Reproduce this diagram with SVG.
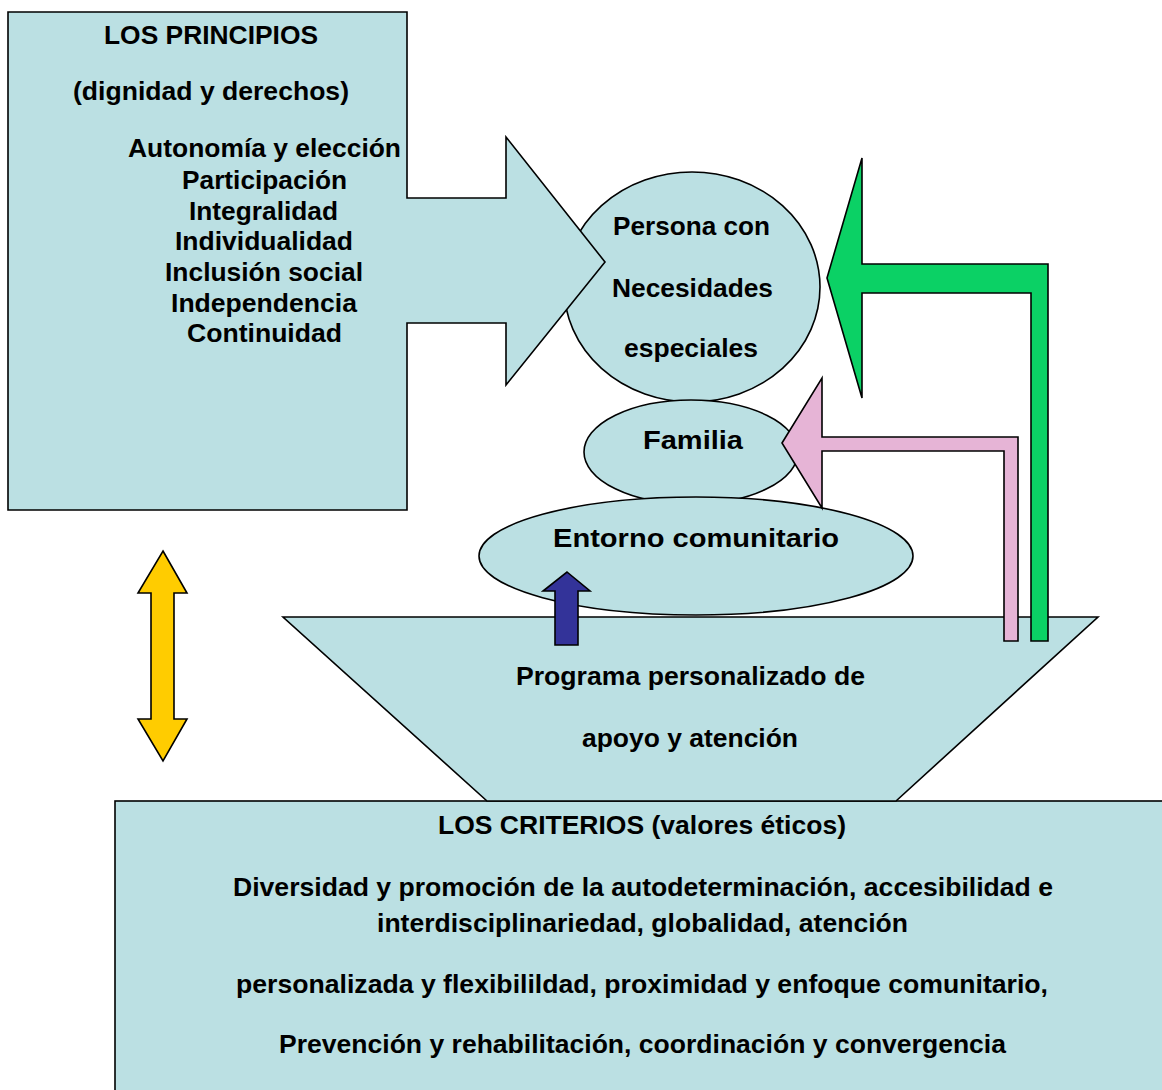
<svg xmlns="http://www.w3.org/2000/svg" width="1162" height="1090" viewBox="0 0 1162 1090">
<style>
.sh{fill:#BBE0E3;stroke:#000;stroke-width:1.6;stroke-linejoin:miter}
.t{font-family:"Liberation Sans",Arial,"DejaVu Sans",sans-serif;font-weight:bold;font-size:26px;fill:#000;text-anchor:middle}
.ar{stroke:#000;stroke-width:1.6;stroke-linejoin:miter}
</style>
<rect width="1162" height="1090" fill="#fff"/>
<g id="criterios">
<rect class="sh" x="115" y="801" width="1060" height="300"/>
<text class="t" x="642" y="834" textLength="408" lengthAdjust="spacingAndGlyphs">LOS CRITERIOS (valores éticos)</text>
<text class="t" x="643" y="896" textLength="820" lengthAdjust="spacingAndGlyphs">Diversidad y promoción de la autodeterminación, accesibilidad e</text>
<text class="t" x="642.5" y="932" textLength="531" lengthAdjust="spacingAndGlyphs">interdisciplinariedad, globalidad, atención</text>
<text class="t" x="642" y="993" textLength="812" lengthAdjust="spacingAndGlyphs">personalizada y flexibilildad, proximidad y enfoque comunitario,</text>
<text class="t" x="642.5" y="1053" textLength="727" lengthAdjust="spacingAndGlyphs">Prevención y rehabilitación, coordinación y convergencia</text>
</g>
<g id="programa">
<polygon class="sh" points="283,617 1098,617 896,801 487,801"/>
<text class="t" x="690.5" y="685" textLength="349" lengthAdjust="spacingAndGlyphs">Programa personalizado de</text>
<text class="t" x="690" y="747" textLength="216" lengthAdjust="spacingAndGlyphs">apoyo y atención</text>
</g>
<g id="persona">
<ellipse class="sh" cx="692" cy="287" rx="128" ry="115"/>
<text class="t" x="691.5" y="235" textLength="157" lengthAdjust="spacingAndGlyphs">Persona con</text>
<text class="t" x="692.5" y="297" textLength="161" lengthAdjust="spacingAndGlyphs">Necesidades</text>
<text class="t" x="691" y="357" textLength="134" lengthAdjust="spacingAndGlyphs">especiales</text>
</g>
<g id="familia">
<ellipse class="sh" cx="691" cy="452" rx="107" ry="52"/>
<text class="t" x="693" y="449" textLength="100" lengthAdjust="spacingAndGlyphs">Familia</text>
</g>
<g id="entorno">
<ellipse class="sh" cx="696" cy="556" rx="217" ry="59"/>
<text class="t" x="696" y="547" textLength="286" lengthAdjust="spacingAndGlyphs">Entorno comunitario</text>
</g>
<g id="principios">
<polygon class="sh" points="8,12 407,12 407,198 506,198 506,137 605,262 506,385 506,323 407,323 407,510 8,510"/>
<text class="t" x="211" y="44" textLength="214" lengthAdjust="spacingAndGlyphs">LOS PRINCIPIOS</text>
<text class="t" x="211" y="100" textLength="276" lengthAdjust="spacingAndGlyphs">(dignidad y derechos)</text>
<text class="t" x="264.5" y="157" textLength="273" lengthAdjust="spacingAndGlyphs">Autonomía y elección</text>
<text class="t" x="264.5" y="189" textLength="165" lengthAdjust="spacingAndGlyphs">Participación</text>
<text class="t" x="263.5" y="220" textLength="149" lengthAdjust="spacingAndGlyphs">Integralidad</text>
<text class="t" x="264" y="250" textLength="178" lengthAdjust="spacingAndGlyphs">Individualidad</text>
<text class="t" x="264" y="281" textLength="198" lengthAdjust="spacingAndGlyphs">Inclusión social</text>
<text class="t" x="264" y="312" textLength="186" lengthAdjust="spacingAndGlyphs">Independencia</text>
<text class="t" x="264.5" y="342" textLength="155" lengthAdjust="spacingAndGlyphs">Continuidad</text>
</g>
<g id="connectors">
<polygon class="ar" fill="#333399" points="567,572 590,591 578,591 578,645 555,645 555,591 543,591"/>
<polygon class="ar" fill="#E6B4D6" points="782,443 822,378 822,437 1018,437 1018,641 1004,641 1004,451 822,451 822,508"/>
<polygon class="ar" fill="#0BD165" points="827,278 862,158 862,264 1048,264 1048,641 1031,641 1031,293 862,293 862,398"/>
<polygon class="ar" fill="#FFCC00" points="163,551 187,593 174,593 174,719 187,719 163,761 138,719 151,719 151,593 138,593"/>
</g>
</svg>
